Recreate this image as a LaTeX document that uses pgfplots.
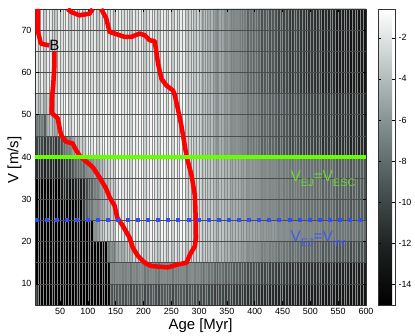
\documentclass[border=0pt]{standalone}
\usepackage{pgfplots}
\pgfplotsset{compat=1.18}
\usepackage{pgfplotstable}
\usepackage{fontspec}
\setmainfont{Liberation Sans}

\definecolor{vgreen}{rgb}{0.40,1.00,0.00}
\definecolor{vblue}{rgb}{0.18,0.31,0.96}
\definecolor{vgreentxt}{rgb}{0.42,0.85,0.20}
\definecolor{vbluetxt}{rgb}{0.25,0.35,0.92}

% cell values: 14 rows (V = 5..75, step 5) of 119 cells (age = 5..600, step 5), bottom row first
\pgfplotstableread[row sep=\\]{
c\\
-9\\ -15\\ -15\\ -15\\ -15\\ -15\\ -15\\ -15\\ -15\\ -15\\
-15\\ -15\\ -15\\ -15\\ -15\\ -15\\ -15\\ -15\\ -15\\ -15\\
-15\\ -15\\ -15\\ -15\\ -15\\ -15\\ -15\\ -9\\ -10\\ -9\\
-9\\ -9.5\\ -9.5\\ -9\\ -10\\ -9\\ -9.5\\ -9\\ -9\\ -10\\
-9.5\\ -9\\ -9\\ -9.5\\ -10\\ -9\\ -9\\ -9.5\\ -9\\ -10\\
-9\\ -9.5\\ -9\\ -9\\ -10\\ -9.2\\ -9.0\\ -9.4\\ -9.2\\ -9.2\\
-10.2\\ -9.4\\ -10.0\\ -9.6\\ -10.2\\ -10.6\\ -10.0\\ -10.0\\ -10.6\\ -10.2\\
-10.8\\ -10.6\\ -10.6\\ -10.6\\ -11.0\\ -10.8\\ -11.4\\ -11.0\\ -11.4\\ -11.2\\
-11.3\\ -11.8\\ -11.6\\ -11.5\\ -11.8\\ -11.6\\ -11.7\\ -12.2\\ -11.8\\ -12.1\\
-11.9\\ -12.2\\ -12.4\\ -12.1\\ -12.1\\ -12.4\\ -12.2\\ -12.6\\ -12.5\\ -12.4\\
-12.4\\ -12.6\\ -12.5\\ -12.9\\ -12.6\\ -12.8\\ -12.6\\ -12.7\\ -13.1\\ -13.0\\
-12.8\\ -13.0\\ -12.9\\ -13.3\\ -13.0\\ -13.0\\ -13.2\\ -13.1\\ -13.3\\
-15\\ -15\\ -15\\ -15\\ -15\\ -15\\ -15\\ -15\\ -15\\ -15\\
-15\\ -15\\ -15\\ -15\\ -15\\ -15\\ -15\\ -15\\ -15\\ -15\\
-15\\ -15\\ -15\\ -15\\ -15\\ -15\\ -15\\ -6.5\\ -7.5\\ -6.5\\
-6.5\\ -7\\ -7\\ -6.5\\ -7.5\\ -6.5\\ -7\\ -6.5\\ -6.5\\ -7.5\\
-7\\ -6.5\\ -6.5\\ -7\\ -7.5\\ -6.5\\ -6.5\\ -7\\ -6.5\\ -7.5\\
-6.5\\ -7\\ -6.5\\ -6.5\\ -7.5\\ -6.6\\ -6.1\\ -6.9\\ -6.4\\ -6.6\\
-7.9\\ -6.9\\ -7.6\\ -7.2\\ -7.9\\ -8.7\\ -7.6\\ -7.8\\ -8.5\\ -8.1\\
-8.8\\ -8.7\\ -8.5\\ -8.7\\ -9.1\\ -9.0\\ -9.7\\ -9.3\\ -9.7\\ -9.6\\
-9.6\\ -10.3\\ -10.1\\ -9.9\\ -10.3\\ -10.1\\ -10.2\\ -10.9\\ -10.4\\ -10.8\\
-10.6\\ -11.0\\ -11.4\\ -10.8\\ -10.9\\ -11.2\\ -11.0\\ -11.7\\ -11.4\\ -11.2\\
-11.3\\ -11.7\\ -11.4\\ -12.1\\ -11.5\\ -11.9\\ -11.7\\ -11.7\\ -12.4\\ -12.1\\
-11.9\\ -12.3\\ -12.0\\ -12.7\\ -12.1\\ -12.2\\ -12.6\\ -12.3\\ -12.7\\
-15\\ -15\\ -15\\ -15\\ -15\\ -15\\ -15\\ -15\\ -15\\ -15\\
-15\\ -15\\ -15\\ -15\\ -15\\ -15\\ -15\\ -15\\ -15\\ -15\\
-15\\ -15\\ -15\\ -15\\ -15\\ -15\\ -7.5\\ -6\\ -7.5\\ -5\\
-4.5\\ -5\\ -4.5\\ -3\\ -4.5\\ -2.5\\ -3\\ -2\\ -2\\ -4\\
-3\\ -2\\ -2\\ -3\\ -4\\ -2\\ -2\\ -3\\ -2\\ -4\\
-2\\ -3\\ -2\\ -2\\ -4\\ -2.6\\ -2.1\\ -3.0\\ -2.5\\ -2.6\\
-4.2\\ -3.0\\ -3.9\\ -3.3\\ -4.2\\ -5.1\\ -3.9\\ -4.0\\ -4.9\\ -4.4\\
-5.3\\ -5.1\\ -4.9\\ -5.1\\ -5.6\\ -5.4\\ -6.3\\ -5.8\\ -6.3\\ -6.1\\
-6.2\\ -7.0\\ -6.8\\ -6.5\\ -7.0\\ -6.8\\ -6.9\\ -7.7\\ -7.1\\ -7.6\\
-7.3\\ -7.8\\ -8.2\\ -7.6\\ -7.7\\ -8.1\\ -7.8\\ -8.6\\ -8.3\\ -8.1\\
-8.2\\ -8.6\\ -8.3\\ -9.1\\ -8.4\\ -8.9\\ -8.6\\ -8.6\\ -9.4\\ -9.1\\
-8.9\\ -9.3\\ -9.0\\ -9.8\\ -9.1\\ -9.2\\ -9.6\\ -9.3\\ -9.8\\
-15\\ -15\\ -15\\ -15\\ -15\\ -15\\ -15\\ -15\\ -15\\ -15\\
-15\\ -15\\ -15\\ -15\\ -15\\ -15\\ -15\\ -15\\ -15\\ -15\\
-15\\ -6\\ -5.5\\ -4\\ -3\\ -2.5\\ -3\\ -2.5\\ -3.5\\ -1\\
-1\\ -2\\ -2\\ -1\\ -3\\ -1\\ -2\\ -1\\ -1\\ -3\\
-2\\ -1\\ -1\\ -2\\ -3\\ -1\\ -1\\ -2\\ -1\\ -3\\
-1\\ -2\\ -1\\ -1\\ -3\\ -2.4\\ -2.0\\ -2.7\\ -2.3\\ -2.4\\
-3.6\\ -2.7\\ -3.4\\ -2.9\\ -3.6\\ -4.3\\ -3.4\\ -3.5\\ -4.2\\ -3.8\\
-4.5\\ -4.3\\ -4.2\\ -4.3\\ -4.7\\ -4.6\\ -5.3\\ -4.9\\ -5.3\\ -5.1\\
-5.2\\ -5.8\\ -5.6\\ -5.5\\ -5.8\\ -5.6\\ -5.7\\ -6.4\\ -5.9\\ -6.3\\
-6.1\\ -6.5\\ -6.8\\ -6.3\\ -6.3\\ -6.7\\ -6.5\\ -7.1\\ -6.8\\ -6.7\\
-6.7\\ -7.1\\ -6.8\\ -7.4\\ -6.9\\ -7.3\\ -7.1\\ -7.1\\ -7.7\\ -7.5\\
-7.3\\ -7.6\\ -7.4\\ -8.0\\ -7.5\\ -7.6\\ -7.9\\ -7.7\\ -8.0\\
-15\\ -15\\ -15\\ -15\\ -15\\ -15\\ -15\\ -15\\ -15\\ -15\\
-15\\ -15\\ -15\\ -15\\ -15\\ -15\\ -15\\ -11\\ -9\\ -8\\
-7.5\\ -6\\ -6.5\\ -5.5\\ -4.5\\ -4\\ -4\\ -3\\ -3.5\\ -2\\
-1\\ -2\\ -2\\ -1\\ -3\\ -1\\ -2\\ -1\\ -1\\ -3\\
-2\\ -1\\ -1\\ -2\\ -3\\ -1\\ -1\\ -2\\ -1\\ -3\\
-1\\ -2\\ -1\\ -1\\ -3\\ -2.5\\ -2.1\\ -2.9\\ -2.4\\ -2.5\\
-4.0\\ -2.9\\ -3.7\\ -3.2\\ -4.0\\ -4.8\\ -3.7\\ -3.8\\ -4.7\\ -4.2\\
-5.0\\ -4.8\\ -4.7\\ -4.8\\ -5.3\\ -5.1\\ -6.0\\ -5.5\\ -6.0\\ -5.8\\
-5.9\\ -6.6\\ -6.4\\ -6.2\\ -6.6\\ -6.4\\ -6.5\\ -7.3\\ -6.7\\ -7.2\\
-6.9\\ -7.4\\ -7.7\\ -7.2\\ -7.2\\ -7.6\\ -7.4\\ -8.1\\ -7.8\\ -7.6\\
-7.7\\ -8.1\\ -7.8\\ -8.5\\ -7.9\\ -8.3\\ -8.1\\ -8.1\\ -8.8\\ -8.6\\
-8.3\\ -8.7\\ -8.5\\ -9.2\\ -8.6\\ -8.6\\ -9.0\\ -8.8\\ -9.2\\
-15\\ -15\\ -15\\ -15\\ -15\\ -15\\ -15\\ -15\\ -15\\ -13\\
-12.5\\ -12.5\\ -13.5\\ -13\\ -12.5\\ -13\\ -12.5\\ -12\\ -10\\ -9\\
-8.5\\ -7\\ -7\\ -5.5\\ -4.5\\ -4\\ -4\\ -3\\ -3.5\\ -2\\
-1\\ -2\\ -2\\ -1\\ -3\\ -1\\ -2\\ -1\\ -1\\ -3\\
-2\\ -1\\ -1\\ -2\\ -3\\ -1\\ -1\\ -2\\ -1\\ -3\\
-1\\ -2\\ -1\\ -1\\ -3\\ -2.5\\ -2.1\\ -2.9\\ -2.4\\ -2.5\\
-4.0\\ -2.9\\ -3.7\\ -3.2\\ -4.0\\ -4.8\\ -3.7\\ -3.8\\ -4.7\\ -4.2\\
-5.0\\ -4.8\\ -4.7\\ -4.8\\ -5.3\\ -5.1\\ -6.0\\ -5.5\\ -6.0\\ -5.8\\
-5.9\\ -6.6\\ -6.4\\ -6.2\\ -6.6\\ -6.4\\ -6.5\\ -7.3\\ -6.7\\ -7.2\\
-6.9\\ -7.4\\ -7.7\\ -7.2\\ -7.2\\ -7.6\\ -7.4\\ -8.1\\ -7.8\\ -7.6\\
-7.7\\ -8.1\\ -7.8\\ -8.5\\ -7.9\\ -8.3\\ -8.1\\ -8.1\\ -8.8\\ -8.6\\
-8.3\\ -8.7\\ -8.5\\ -9.2\\ -8.6\\ -8.6\\ -9.0\\ -8.8\\ -9.2\\
-11.5\\ -12\\ -11.5\\ -12.5\\ -11.5\\ -11.5\\ -12\\ -12.5\\ -11.5\\ -12\\
-11.5\\ -10\\ -10.5\\ -9.5\\ -8.5\\ -8.5\\ -7.5\\ -8\\ -6.5\\ -6\\
-6\\ -5\\ -5.5\\ -4.5\\ -3.5\\ -3\\ -3\\ -2\\ -3\\ -1\\
-1\\ -2\\ -2\\ -1\\ -3\\ -1\\ -2\\ -1\\ -1\\ -3\\
-2\\ -1\\ -1\\ -2\\ -3\\ -1\\ -1\\ -2\\ -1\\ -3\\
-1\\ -2\\ -1\\ -1\\ -3\\ -2.5\\ -2.1\\ -2.9\\ -2.4\\ -2.5\\
-4.0\\ -2.9\\ -3.7\\ -3.2\\ -4.0\\ -4.8\\ -3.7\\ -3.8\\ -4.7\\ -4.2\\
-5.0\\ -4.8\\ -4.7\\ -4.8\\ -5.3\\ -5.1\\ -6.0\\ -5.5\\ -6.0\\ -5.8\\
-5.9\\ -6.6\\ -6.4\\ -6.2\\ -6.6\\ -6.4\\ -6.5\\ -7.3\\ -6.7\\ -7.2\\
-6.9\\ -7.4\\ -7.7\\ -7.2\\ -7.2\\ -7.6\\ -7.4\\ -8.1\\ -7.8\\ -7.6\\
-7.7\\ -8.1\\ -7.8\\ -8.5\\ -7.9\\ -8.3\\ -8.1\\ -8.1\\ -8.8\\ -8.6\\
-8.3\\ -8.7\\ -8.5\\ -9.2\\ -8.6\\ -8.6\\ -9.0\\ -8.8\\ -9.2\\
-10\\ -10.5\\ -10\\ -11\\ -10\\ -10\\ -10.5\\ -11\\ -10\\ -9.5\\
-8\\ -7\\ -7\\ -5.5\\ -4\\ -4\\ -3\\ -3.5\\ -2\\ -1\\
-2\\ -1\\ -3\\ -2\\ -1\\ -1\\ -2\\ -1\\ -3\\ -1\\
-1\\ -2\\ -2\\ -1\\ -3\\ -1\\ -2\\ -1\\ -1\\ -3\\
-2\\ -1\\ -1\\ -2\\ -3\\ -1\\ -1\\ -2\\ -1\\ -3\\
-1\\ -2\\ -1\\ -1\\ -3\\ -2.9\\ -2.3\\ -3.4\\ -2.8\\ -2.9\\
-5.0\\ -3.4\\ -4.6\\ -3.8\\ -5.0\\ -6.1\\ -4.6\\ -4.7\\ -5.9\\ -5.2\\
-6.4\\ -6.1\\ -5.9\\ -6.1\\ -6.8\\ -6.5\\ -7.7\\ -7.0\\ -7.7\\ -7.4\\
-7.5\\ -8.6\\ -8.3\\ -8.0\\ -8.6\\ -8.3\\ -8.4\\ -9.5\\ -8.7\\ -9.3\\
-9.0\\ -9.6\\ -10.1\\ -9.3\\ -9.4\\ -10.0\\ -9.6\\ -10.6\\ -10.2\\ -10.0\\
-10.1\\ -10.6\\ -10.2\\ -11.2\\ -10.4\\ -11.0\\ -10.6\\ -10.7\\ -11.7\\ -11.3\\
-11.0\\ -11.5\\ -11.1\\ -12.1\\ -11.3\\ -11.4\\ -12.0\\ -11.6\\ -12.1\\
-7\\ -8\\ -7\\ -9\\ -5\\ -3\\ -4\\ -5\\ -1\\ -2\\
-1\\ -1\\ -3\\ -2\\ -1\\ -2\\ -1\\ -3\\ -1\\ -1\\
-2\\ -1\\ -3\\ -2\\ -1\\ -1\\ -2\\ -1\\ -3\\ -1\\
-1\\ -2\\ -2\\ -1\\ -3\\ -1\\ -2\\ -1\\ -1\\ -3\\
-2\\ -1\\ -1\\ -2\\ -3\\ -1\\ -1\\ -2\\ -1\\ -3\\
-1\\ -2\\ -1\\ -1\\ -3\\ -2.9\\ -2.3\\ -3.4\\ -2.8\\ -2.9\\
-5.0\\ -3.4\\ -4.6\\ -3.8\\ -5.0\\ -6.1\\ -4.6\\ -4.7\\ -5.9\\ -5.2\\
-6.4\\ -6.1\\ -5.9\\ -6.1\\ -6.8\\ -6.5\\ -7.7\\ -7.0\\ -7.7\\ -7.4\\
-7.5\\ -8.6\\ -8.3\\ -8.0\\ -8.6\\ -8.3\\ -8.4\\ -9.5\\ -8.7\\ -9.3\\
-9.0\\ -9.6\\ -10.1\\ -9.3\\ -9.4\\ -10.0\\ -9.6\\ -10.6\\ -10.2\\ -10.0\\
-10.1\\ -10.6\\ -10.2\\ -11.2\\ -10.4\\ -11.0\\ -10.6\\ -10.7\\ -11.7\\ -11.3\\
-11.0\\ -11.5\\ -11.1\\ -12.1\\ -11.3\\ -11.4\\ -12.0\\ -11.6\\ -12.1\\
-3\\ -4\\ -3\\ -5\\ -3\\ -3\\ -2\\ -3\\ -1\\ -2\\
-1\\ -1\\ -3\\ -2\\ -1\\ -2\\ -1\\ -3\\ -1\\ -1\\
-2\\ -1\\ -3\\ -2\\ -1\\ -1\\ -2\\ -1\\ -3\\ -1\\
-1\\ -2\\ -2\\ -1\\ -3\\ -1\\ -2\\ -1\\ -1\\ -3\\
-2\\ -1\\ -1\\ -2\\ -3\\ -1\\ -1\\ -2\\ -1\\ -3\\
-1\\ -2\\ -1\\ -1\\ -3\\ -2.9\\ -2.3\\ -3.4\\ -2.8\\ -2.9\\
-5.0\\ -3.4\\ -4.6\\ -3.8\\ -5.0\\ -6.1\\ -4.6\\ -4.7\\ -5.9\\ -5.2\\
-6.4\\ -6.1\\ -5.9\\ -6.1\\ -6.8\\ -6.5\\ -7.7\\ -7.0\\ -7.7\\ -7.4\\
-7.5\\ -8.6\\ -8.3\\ -8.0\\ -8.6\\ -8.3\\ -8.4\\ -9.5\\ -8.7\\ -9.3\\
-9.0\\ -9.6\\ -10.1\\ -9.3\\ -9.4\\ -10.0\\ -9.6\\ -10.6\\ -10.2\\ -10.0\\
-10.1\\ -10.6\\ -10.2\\ -11.2\\ -10.4\\ -11.0\\ -10.6\\ -10.7\\ -11.7\\ -11.3\\
-11.0\\ -11.5\\ -11.1\\ -12.1\\ -11.3\\ -11.4\\ -12.0\\ -11.6\\ -12.1\\
-1.5\\ -2.5\\ -1.5\\ -3.5\\ -1.5\\ -1.5\\ -2.5\\ -3.5\\ -1.5\\ -2.5\\
-1.5\\ -1.5\\ -3.5\\ -2.5\\ -1.5\\ -2.5\\ -1.5\\ -3.5\\ -1.5\\ -1.5\\
-2.5\\ -1.5\\ -3.5\\ -2.5\\ -1.5\\ -1.5\\ -2.5\\ -1.5\\ -3.5\\ -1.5\\
-1.5\\ -2.5\\ -2.5\\ -1.5\\ -3.5\\ -1.5\\ -2.5\\ -1.5\\ -1.5\\ -3.5\\
-2.5\\ -1.5\\ -1.5\\ -2.5\\ -3.5\\ -1.5\\ -1.5\\ -2.5\\ -1.5\\ -3.5\\
-1.5\\ -2.5\\ -1.5\\ -1.5\\ -3.5\\ -3.1\\ -2.4\\ -3.6\\ -2.9\\ -3.1\\
-5.4\\ -3.6\\ -4.9\\ -4.1\\ -5.4\\ -6.6\\ -4.9\\ -5.1\\ -6.4\\ -5.6\\
-6.9\\ -6.6\\ -6.4\\ -6.6\\ -7.4\\ -7.1\\ -8.4\\ -7.6\\ -8.4\\ -8.1\\
-8.2\\ -9.4\\ -9.0\\ -8.7\\ -9.4\\ -9.0\\ -9.2\\ -10.4\\ -9.5\\ -10.2\\
-9.8\\ -10.5\\ -11.1\\ -10.2\\ -10.3\\ -10.9\\ -10.5\\ -11.6\\ -11.2\\ -10.9\\
-11.0\\ -11.6\\ -11.2\\ -12.3\\ -11.4\\ -12.0\\ -11.6\\ -11.7\\ -12.8\\ -12.4\\
-12.0\\ -12.6\\ -12.2\\ -13.3\\ -12.4\\ -12.5\\ -13.1\\ -12.7\\ -13.3\\
-1.5\\ -2.5\\ -1.5\\ -3.5\\ -1.5\\ -1.5\\ -2.5\\ -3.5\\ -1.5\\ -2.5\\
-1.5\\ -1.5\\ -3.5\\ -2.5\\ -1.5\\ -2.5\\ -1.5\\ -3.5\\ -1.5\\ -1.5\\
-2.5\\ -1.5\\ -3.5\\ -2.5\\ -1.5\\ -1.5\\ -2.5\\ -1.5\\ -3.5\\ -1.5\\
-1.5\\ -2.5\\ -2.5\\ -1.5\\ -3.5\\ -1.5\\ -2.5\\ -1.5\\ -1.5\\ -3.5\\
-2.5\\ -1.5\\ -1.5\\ -2.5\\ -3.5\\ -1.5\\ -1.5\\ -2.5\\ -1.5\\ -3.5\\
-1.5\\ -2.5\\ -1.5\\ -1.5\\ -3.5\\ -3.1\\ -2.4\\ -3.6\\ -2.9\\ -3.1\\
-5.4\\ -3.6\\ -4.9\\ -4.1\\ -5.4\\ -6.6\\ -4.9\\ -5.1\\ -6.4\\ -5.6\\
-6.9\\ -6.6\\ -6.4\\ -6.6\\ -7.4\\ -7.1\\ -8.4\\ -7.6\\ -8.4\\ -8.1\\
-8.2\\ -9.4\\ -9.0\\ -8.7\\ -9.4\\ -9.0\\ -9.2\\ -10.4\\ -9.5\\ -10.2\\
-9.8\\ -10.5\\ -11.1\\ -10.2\\ -10.3\\ -10.9\\ -10.5\\ -11.6\\ -11.2\\ -10.9\\
-11.0\\ -11.6\\ -11.2\\ -12.3\\ -11.4\\ -12.0\\ -11.6\\ -11.7\\ -12.8\\ -12.4\\
-12.0\\ -12.6\\ -12.2\\ -13.3\\ -12.4\\ -12.5\\ -13.1\\ -12.7\\ -13.3\\
-1.5\\ -2.5\\ -1.5\\ -3.5\\ -1.5\\ -1.5\\ -2.5\\ -3.5\\ -1.5\\ -2.5\\
-1.5\\ -1.5\\ -3.5\\ -2.5\\ -1.5\\ -2.5\\ -1.5\\ -3.5\\ -1.5\\ -1.5\\
-2.5\\ -1.5\\ -3.5\\ -2.5\\ -1.5\\ -1.5\\ -2.5\\ -1.5\\ -3.5\\ -1.5\\
-1.5\\ -2.5\\ -2.5\\ -1.5\\ -3.5\\ -1.5\\ -2.5\\ -1.5\\ -1.5\\ -3.5\\
-2.5\\ -1.5\\ -1.5\\ -2.5\\ -3.5\\ -1.5\\ -1.5\\ -2.5\\ -1.5\\ -3.5\\
-1.5\\ -2.5\\ -1.5\\ -1.5\\ -3.5\\ -3.1\\ -2.4\\ -3.6\\ -2.9\\ -3.1\\
-5.4\\ -3.6\\ -4.9\\ -4.1\\ -5.4\\ -6.6\\ -4.9\\ -5.1\\ -6.4\\ -5.6\\
-6.9\\ -6.6\\ -6.4\\ -6.6\\ -7.4\\ -7.1\\ -8.4\\ -7.6\\ -8.4\\ -8.1\\
-8.2\\ -9.4\\ -9.0\\ -8.7\\ -9.4\\ -9.0\\ -9.2\\ -10.4\\ -9.5\\ -10.2\\
-9.8\\ -10.5\\ -11.1\\ -10.2\\ -10.3\\ -10.9\\ -10.5\\ -11.6\\ -11.2\\ -10.9\\
-11.0\\ -11.6\\ -11.2\\ -12.3\\ -11.4\\ -12.0\\ -11.6\\ -11.7\\ -12.8\\ -12.4\\
-12.0\\ -12.6\\ -12.2\\ -13.3\\ -12.4\\ -12.5\\ -13.1\\ -12.7\\ -13.3\\
-1.5\\ -2.5\\ -1.5\\ -3.5\\ -1.5\\ -1.5\\ -2.5\\ -3.5\\ -1.5\\ -2.5\\
-1.5\\ -1.5\\ -3.5\\ -2.5\\ -1.5\\ -2.5\\ -1.5\\ -3.5\\ -1.5\\ -1.5\\
-2.5\\ -1.5\\ -3.5\\ -2.5\\ -1.5\\ -1.5\\ -2.5\\ -1.5\\ -3.5\\ -1.5\\
-1.5\\ -2.5\\ -2.5\\ -1.5\\ -3.5\\ -1.5\\ -2.5\\ -1.5\\ -1.5\\ -3.5\\
-2.5\\ -1.5\\ -1.5\\ -2.5\\ -3.5\\ -1.5\\ -1.5\\ -2.5\\ -1.5\\ -3.5\\
-1.5\\ -2.5\\ -1.5\\ -1.5\\ -3.5\\ -3.1\\ -2.4\\ -3.6\\ -2.9\\ -3.1\\
-5.4\\ -3.6\\ -4.9\\ -4.1\\ -5.4\\ -6.6\\ -4.9\\ -5.1\\ -6.4\\ -5.6\\
-6.9\\ -6.6\\ -6.4\\ -6.6\\ -7.4\\ -7.1\\ -8.4\\ -7.6\\ -8.4\\ -8.1\\
-8.2\\ -9.4\\ -9.0\\ -8.7\\ -9.4\\ -9.0\\ -9.2\\ -10.4\\ -9.5\\ -10.2\\
-9.8\\ -10.5\\ -11.1\\ -10.2\\ -10.3\\ -10.9\\ -10.5\\ -11.6\\ -11.2\\ -10.9\\
-11.0\\ -11.6\\ -11.2\\ -12.3\\ -11.4\\ -12.0\\ -11.6\\ -11.7\\ -12.8\\ -12.4\\
-12.0\\ -12.6\\ -12.2\\ -13.3\\ -12.4\\ -12.5\\ -13.1\\ -12.7\\ -13.3\\
}\cells

\begin{document}
\begin{tikzpicture}
\begin{axis}[
  name=main,
  set layers, axis on top, clip mode=individual,
  scale only axis, width=331bp, height=296bp,
  xmin=5, xmax=600, ymin=5, ymax=75,
  xtick={50,100,...,600}, ytick={10,20,...,70},
  minor xtick={5,10,...,600}, minor ytick={5,10,...,75},
  xminorgrids, yminorgrids,
  minor x grid style={black!45, line width=0.35bp},
  minor y grid style={black!70, line width=0.5bp},
  minor tick length=0pt,
  major tick length=3.5bp,
  tick align=inside,
  tick style={black, line width=0.5bp},
  axis line style={black!80, line width=0.5bp},
  ticklabel style={font=\fontsize{9}{10}\selectfont},
  /pgf/number format/assume math mode=true,
  xlabel={Age [Myr]}, ylabel={V [m/s]},
  label style={font=\fontsize{15}{16}\selectfont},
  xlabel style={at={(axis description cs:0.5,-0.0811)}, anchor=base},
  ylabel style={at={(axis description cs:-0.0505,0.49)}, anchor=base},
  colormap={bonegray}{rgb255=(0,0,0) rgb255=(30,34,34) rgb255=(74,84,84) rgb255=(128,140,140) rgb255=(190,198,198) rgb255=(255,255,255)},
  point meta min=-15, point meta max=-0.6,
  colorbar,
  colorbar shift/.style={},
  colorbar style={
    at={(parent axis.north east)}, anchor=north west, xshift=12bp,
    width=17bp,
    ytick={-14,-12,...,-2},
    yticklabels={-14,-12,-10,-8,-6,-4,-2},
    yticklabel style={font=\fontsize{9}{10}\selectfont},
    major tick length=3bp,
    tick align=inside,
    axis line style={black!80, line width=0.5bp},
  },
]
\addplot[matrix plot*, mesh/cols=119, point meta=explicit]
  table[x index=0, y index=0, meta index=0, x expr={5*mod(\coordindex,119)+7.5}, y expr={5*floor(\coordindex/119)+7.5}] {\cells};

% contour
\addplot[red, line width=4.5bp, line join=round, on layer=axis foreground] coordinates {
  (9.6,75) (9.6,70.0) (15.7,66.8) (30.5,66.4)
};
\addplot[red, line width=4.5bp, line join=round, on layer=axis foreground] coordinates {
  (39.7,64.9) (39.7,61.3) (37.9,57.3) (35.6,54.2) (34.8,50.4) (45.7,49.2)
  (51.8,45.2) (60.8,43.6) (72.7,43.2) (78.9,41.6) (86,40.2) (108.8,37.6)
  (120.9,35.2) (133.0,32.5) (139.0,30.5) (148.0,28.5) (153,25.6) (163.0,23.7)
  (175.1,20.9) (181.0,18.5) (190.1,16.6) (202.2,15.0) (214.3,14.2) (244.2,13.9)
  (262.3,14.6) (277.4,15.0) (283.4,16.9) (292.4,18.9) (294.5,20.9) (294,25)
  (292.4,30.9) (286.5,35.6) (277.4,40.2) (268.4,47.2) (262.3,51.1) (256.3,54.6)
  (253.3,55.7) (241.3,56.9) (232.3,58.5) (226.2,62.1) (220.2,67.4) (211.2,67.6)
  (202.2,68.8) (193.1,69.2) (178.2,68.4) (166.1,68.4) (148.0,69.2) (139.0,69.6)
  (133.0,72.8) (124.0,75)
};
\addplot[red, line width=4.5bp, line join=round, on layer=axis foreground] coordinates {
  (63.8,75) (69.9,74.3) (84.8,73.5) (102.9,73.9) (108.8,75)
};

% escape and incidence velocities
\addplot[vgreen, line width=4bp, on layer=axis foreground] coordinates {(5,40) (600,40)};
\addplot[vblue, line width=4bp, dash pattern=on 4bp off 6.1bp, on layer=axis foreground] coordinates {(5,25) (600,25)};

\begin{pgfonlayer}{axis foreground}
\node[font=\fontsize{15}{15}\selectfont, inner sep=0pt] at (axis cs:39.7,66.3) {B};
\node[anchor=base west, inner sep=0pt, text=vgreentxt, font=\fontsize{15.5}{16}\selectfont]
  at (axis cs:464,34.2) {V\raisebox{-5bp}{\fontsize{11}{11}\selectfont EJ}=V\raisebox{-5bp}{\fontsize{11}{11}\selectfont ESC}};
\node[anchor=base west, inner sep=0pt, text=vbluetxt, font=\fontsize{15.5}{16}\selectfont]
  at (axis cs:464,20.1) {V\raisebox{-5bp}{\fontsize{11}{11}\selectfont EJ}=V\raisebox{-5bp}{\fontsize{11}{11}\selectfont inc}};
\end{pgfonlayer}
\end{axis}
\pgfresetboundingbox
\path ([shift={(-35bp,-31bp)}]main.south west) rectangle ([shift={(49bp,9bp)}]main.north east);
\end{tikzpicture}
\end{document}
